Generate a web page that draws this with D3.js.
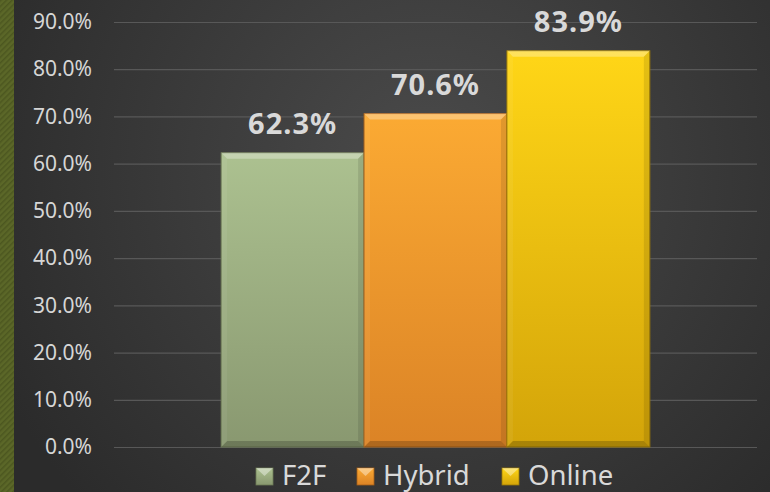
<!DOCTYPE html>
<html>
<head>
<meta charset="utf-8">
<script src="https://cdn.jsdelivr.net/npm/d3@7"></script>
<style>
  html, body { margin: 0; padding: 0; background: #333; }
  svg { display: block; }
</style>
</head>
<body>
<div id="plot"></div>
<script>
// chart values
const series = ["F2F", "Hybrid", "Online"];
const values = [0.623, 0.706, 0.839];
const tick_values = [0, 0.1, 0.2, 0.3, 0.4, 0.5, 0.6, 0.7, 0.8, 0.9];

// look
const fills = {
    "F2F":    { top: "#acc190", bottom: "#899870", edge: "#6d7a55" },
    "Hybrid": { top: "#fbaa33", bottom: "#db8326", edge: "#a86018" },
    "Online": { top: "#ffd617", bottom: "#d3a409", edge: "#9c7a06" }
};
const width = 770, height = 492;
const margin = { left: 114, right: 13, top: 22, bottom: 45 };
const bevel = 6;

const svg = d3.select("#plot").append("svg")
    .attr("width", width)
    .attr("height", height);

const defs = svg.append("defs");

let bg = defs.append("radialGradient")
    .attr("id", "bg")
    .attr("gradientUnits", "userSpaceOnUse")
    .attr("cx", 430).attr("cy", 170).attr("r", 480);
bg.append("stop").attr("offset", "0%").attr("stop-color", "#4b4b4b");
bg.append("stop").attr("offset", "100%").attr("stop-color", "#2b2b2b");

let hatch = defs.append("pattern")
    .attr("id", "hatch")
    .attr("patternUnits", "userSpaceOnUse")
    .attr("width", 4).attr("height", 4)
    .attr("patternTransform", "rotate(45)");
hatch.append("rect").attr("width", 4).attr("height", 4).attr("fill", "#5b6728");
hatch.append("rect").attr("width", 1.5).attr("height", 4).attr("fill", "#4c5720");

series.forEach(s => {
    let g = defs.append("linearGradient")
        .attr("id", "grad-" + s)
        .attr("x1", 0).attr("y1", 0).attr("x2", 0).attr("y2", 1);
    g.append("stop").attr("offset", "0%").attr("stop-color", fills[s].top);
    g.append("stop").attr("offset", "100%").attr("stop-color", fills[s].bottom);
});

// background + left strip
svg.append("rect").attr("width", width).attr("height", height).attr("fill", "url(#bg)");
svg.append("rect").attr("width", 14).attr("height", height).attr("fill", "url(#hatch)");

const y = d3.scaleLinear()
    .domain([0, 0.9])
    .range([height - margin.bottom, margin.top]);

const x = d3.scaleBand()
    .domain(series)
    .range([margin.left, width - margin.right])
    .paddingInner(0)
    .paddingOuter(0.75);

// gridlines and tick labels via axis
const y_axis = d3.axisLeft(y)
    .tickValues(tick_values)
    .tickFormat(d3.format(".1%"))
    .tickSize(-(width - margin.left - margin.right))
    .tickPadding(22);

let ax = svg.append("g")
    .attr("transform", `translate(${margin.left},0)`)
    .call(y_axis);
ax.select(".domain").remove();
ax.selectAll(".tick line").attr("stroke", "#585858").attr("stroke-width", 1.2);
ax.selectAll(".tick text")
    .attr("fill", "#d6d6d6")
    .style("font-family", "'Noto Sans', sans-serif")
    .style("font-size", "21px");

// bars
let bars = svg.append("g").selectAll("g.bar")
    .data(series.map((s, i) => ({ name: s, value: values[i] })))
    .join("g")
    .attr("class", "bar");

bars.append("rect")
    .attr("x", d => x(d.name))
    .attr("y", d => y(d.value))
    .attr("width", x.bandwidth())
    .attr("height", d => y(0) - y(d.value))
    .attr("fill", d => `url(#grad-${d.name})`)
    .attr("stroke", d => fills[d.name].edge)
    .attr("stroke-width", 1);

const bevel_sides = function (d) {
    let x0 = x(d.name), x1 = x0 + x.bandwidth();
    let y0 = y(d.value), y1 = y(0);
    let b = bevel;
    return [
        { pts: [[x0, y0], [x1, y0], [x1 - b, y0 + b], [x0 + b, y0 + b]], fill: "rgba(255,255,255,0.3)" },
        { pts: [[x0, y0], [x0 + b, y0 + b], [x0 + b, y1 - b], [x0, y1]], fill: "rgba(255,255,255,0.06)" },
        { pts: [[x1, y0], [x1, y1], [x1 - b, y1 - b], [x1 - b, y0 + b]], fill: "rgba(0,0,0,0.1)" },
        { pts: [[x0, y1], [x0 + b, y1 - b], [x1 - b, y1 - b], [x1, y1]], fill: "rgba(0,0,0,0.2)" }
    ];
}

bars.selectAll("polygon")
    .data(d => bevel_sides(d))
    .join("polygon")
    .attr("points", p => p.pts.map(q => q.join(",")).join(" "))
    .attr("fill", p => p.fill);

bars.append("text")
    .attr("x", d => x(d.name) + x.bandwidth() / 2)
    .attr("y", d => y(d.value) - 19)
    .attr("text-anchor", "middle")
    .attr("fill", "#d9d9d9")
    .style("font-family", "'Noto Sans', sans-serif")
    .style("font-weight", "bold")
    .style("font-size", "29px")
    .style("letter-spacing", "1px")
    .text(d => d3.format(".1%")(d.value));

// legend
const legend_x = [256, 357, 502];
let legend = svg.append("g").selectAll("g.legend")
    .data(series)
    .join("g")
    .attr("class", "legend")
    .attr("transform", (d, i) => `translate(${legend_x[i]},468)`);

legend.append("rect")
    .attr("width", 17).attr("height", 17)
    .attr("fill", d => `url(#grad-${d})`)
    .attr("stroke", d => fills[d].edge)
    .attr("stroke-width", 0.8);
legend.append("polygon")
    .attr("points", "0,0 17,0 8.5,8")
    .attr("fill", "rgba(255,255,255,0.4)");
legend.append("text")
    .attr("x", 26)
    .attr("y", 16.5)
    .attr("fill", "#d9d9d9")
    .style("font-family", "'Noto Sans', sans-serif")
    .style("font-size", "27.5px")
    .text(d => d);
</script>
</body>
</html>
